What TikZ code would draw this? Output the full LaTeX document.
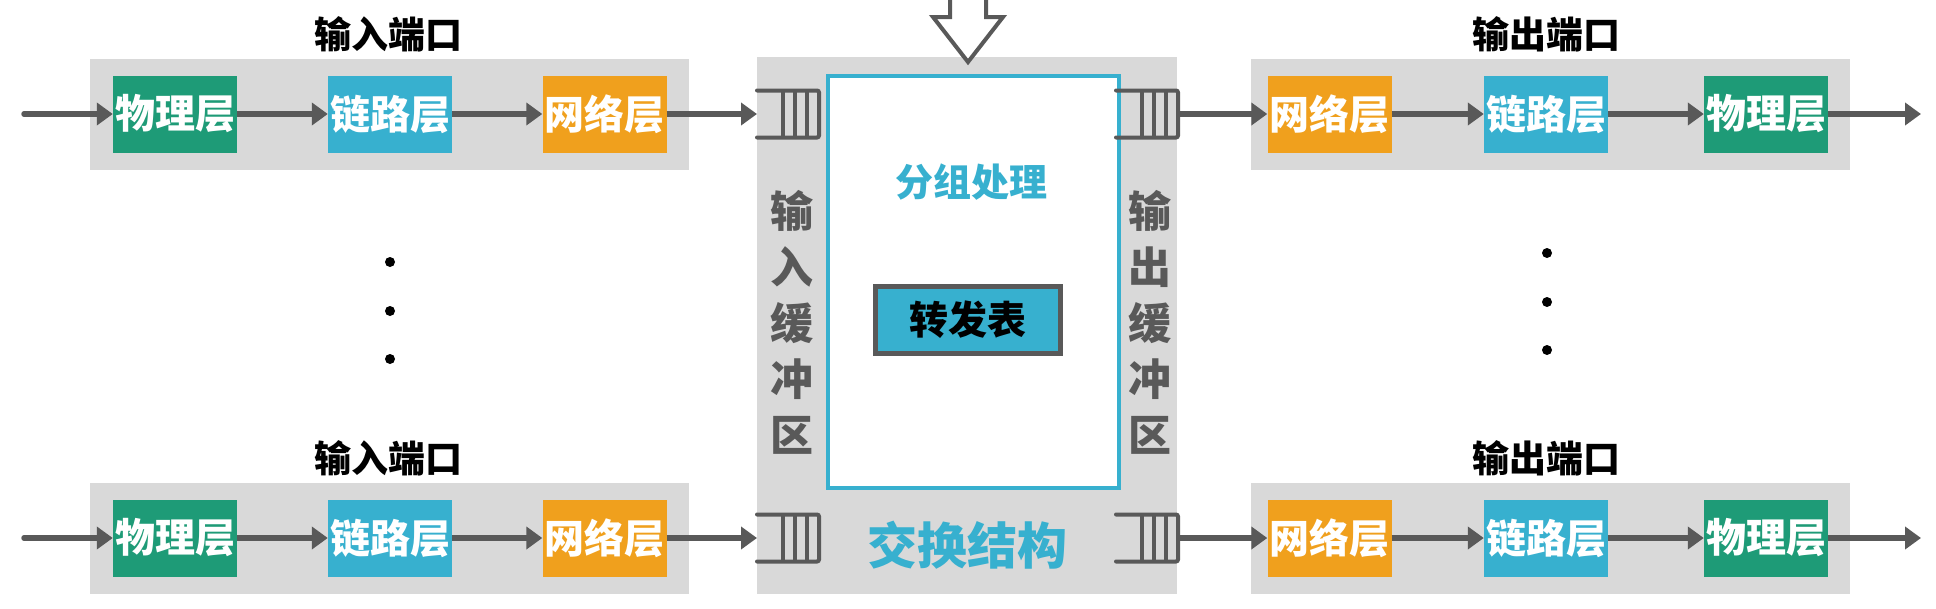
\documentclass[tikz,border=0pt]{standalone}
\usepackage{fontspec}
\newfontfamily\cjk{Noto Sans CJK SC}
\usetikzlibrary{arrows.meta,positioning}
\definecolor{phygreen}{HTML}{1E9B77}
\definecolor{linkblue}{HTML}{37B0CF}
\definecolor{netorange}{HTML}{F0A01D}
\definecolor{portgray}{HTML}{D9D9D9}
\definecolor{arrowgray}{HTML}{595959}
\tikzset{
	layerbox/.style={minimum width=124pt, minimum height=77pt, inner sep=0pt, text=white,
		font=\cjk\bfseries\fontsize{40}{40}\selectfont},
	portbox/.style={fill=portgray, minimum width=599pt, minimum height=111pt, inner sep=0pt},
	porttitle/.style={inner sep=0pt, font=\cjk\bfseries\fontsize{37}{37}\selectfont},
	buflabel/.style={inner sep=0pt, text=arrowgray, align=center,
		font=\cjk\bfseries\fontsize{43}{56}\selectfont},
	flow/.style={-{Triangle[length=16pt,width=22pt]}, line width=5.5pt, arrowgray},
	queue/.pic={
		\draw [line width=4pt, arrowgray, line cap=round, rounded corners=2pt]
			(-31,-23.5) -- (31,-23.5) -- (31,23.5) -- (-31,23.5);
		\foreach \q in {-5,7,19}
			\draw [line width=4pt, arrowgray] (\q,-23.5) -- (\q,23.5);
		\coordinate (-open) at (-31,0);
		\coordinate (-end) at (31,0);
	}
}
\begin{document}
\begin{tikzpicture}[x=1pt,y=-1pt]
	\useasboundingbox (0,0) rectangle (1936,608);

	% switch fabric in the middle
	\node [fill=portgray, minimum width=420pt, minimum height=537pt, inner sep=0pt] (fabric) at (967,325.5) {};
	\draw [line width=4pt, arrowgray, fill=white, line join=miter]
		(950,-10) -- (950,17) -- (933,17) -- (968,62) -- (1003,17) -- (986,17) -- (986,-10);
	\node [draw=linkblue, line width=4.5pt, fill=white, minimum width=291pt, minimum height=412pt, inner sep=0pt] (proc) at (973.5,282) {};
	\node [text=linkblue, inner sep=0pt, font=\cjk\bfseries\fontsize{38}{38}\selectfont] (proclabel) at (971,182) {分组处理};
	\node [draw=arrowgray, line width=5pt, fill=linkblue, minimum width=185pt, minimum height=67pt, inner sep=0pt,
		font=\cjk\bfseries\fontsize{39}{39}\selectfont] (fwd) at (968,320) {转发表};
	\node [buflabel] (inbuf) at (792,322) {输\\入\\缓\\冲\\区};
	\node [buflabel] (outbuf) at (1150,322) {输\\出\\缓\\冲\\区};
	\node [text=linkblue, inner sep=0pt, font=\cjk\bfseries\fontsize{50}{50}\selectfont] (fabriclabel) at (967,545) {交换结构};

	% input and output ports
	\foreach \r/\y in {a/114, b/538} {
		\node [portbox] (inport\r) at (389.5,\y) {};
		\node [porttitle] (intitle\r) at (388,\y-80) {输入端口};
		\node [layerbox, fill=phygreen] (inphy\r) at (175,\y) {物理层};
		\node [layerbox, fill=linkblue] (inlink\r) at (390,\y) {链路层};
		\node [layerbox, fill=netorange] (innet\r) at (604.5,\y) {网络层};
		\pic (qin\r) at (788,\y) {queue};
		\coordinate (src\r) at (24,\y);
		\draw [flow, line cap=round] (src\r) -- (inphy\r);
		\draw [flow] (inphy\r) -- (inlink\r);
		\draw [flow] (inlink\r) -- (innet\r);
		\draw [flow] (innet\r) -- (qin\r-open);

		\node [portbox] (outport\r) at (1550.5,\y) {};
		\node [porttitle] (outtitle\r) at (1546,\y-80) {输出端口};
		\node [layerbox, fill=netorange] (outnet\r) at (1329.5,\y) {网络层};
		\node [layerbox, fill=linkblue] (outlink\r) at (1546,\y) {链路层};
		\node [layerbox, fill=phygreen] (outphy\r) at (1766,\y) {物理层};
		\pic (qout\r) at (1147,\y) {queue};
		\coordinate (sink\r) at (1921,\y);
		\draw [flow] (qout\r-end) -- (outnet\r);
		\draw [flow] (outnet\r) -- (outlink\r);
		\draw [flow] (outlink\r) -- (outphy\r);
		\draw [flow] (outphy\r) -- (sink\r);
	}

	% more ports in between
	\foreach \d in {262,311,359}
		\fill (390,\d) circle (5);
	\foreach \d in {253,302,350}
		\fill (1547,\d) circle (5);
\end{tikzpicture}
\end{document}
